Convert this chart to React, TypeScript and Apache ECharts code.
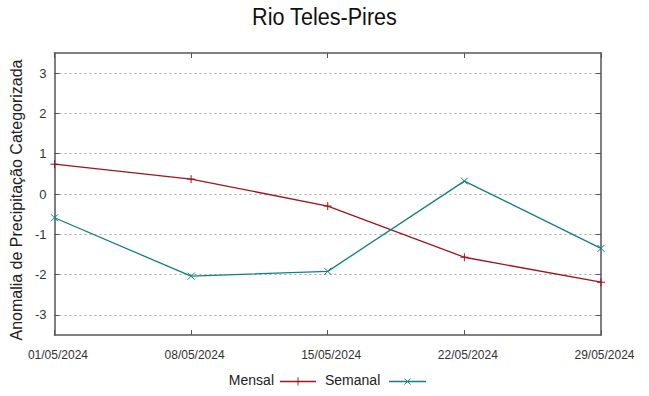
import React, { useEffect, useRef } from "react";
import * as echarts from "echarts";

const categories = ["01/05/2024", "08/05/2024", "15/05/2024", "22/05/2024", "29/05/2024"];
const mensal = [0.74, 0.37, -0.3, -1.57, -2.19];
const semanal = [-0.59, -2.04, -1.92, 0.32, -1.35];
const yTicks = [-3, -2, -1, 0, 1, 2, 3];

const RED = "#a0141c";
const TEAL = "#11807f";
const AXIS = "#555555";
const FONT = "Liberation Sans, Arial, sans-serif";

const plus = "path://M0,-1L0,1M-1,0L1,0";
const cross = "path://M-1,-1L1,1M-1,1L1,-1";

export default function App() {
  const ref = useRef<HTMLDivElement>(null);
  useEffect(() => {
    if (!ref.current) return;
    const chart = echarts.init(ref.current, null, { renderer: "svg" });
    const yAxisBase = {
      type: "value",
      min: -3.5,
      max: 3.5,
      axisLine: { show: true, lineStyle: { color: AXIS, width: 1.5 } },
      axisTick: { show: true, inside: true, length: 5, customValues: yTicks, lineStyle: { color: AXIS } },
      axisLabel: { show: true, customValues: yTicks, fontSize: 13, color: "#333", fontFamily: FONT, margin: 8 },
      splitLine: { show: false },
    };
    chart.setOption({
      animation: false,
      grid: { left: 50, right: 48, top: 53, bottom: 61, containLabel: false },
      xAxis: [
        {
          type: "category",
          data: categories,
          boundaryGap: false,
          position: "bottom",
          axisLine: { show: true, onZero: false, lineStyle: { color: AXIS, width: 1.5 } },
          axisTick: { show: true, inside: true, length: 5, lineStyle: { color: AXIS } },
          axisLabel: {
            fontSize: 12,
            color: "#333",
            fontFamily: FONT,
            margin: 14,
            interval: 0,
            padding: [0, 0, 0, 7],
          },
          splitLine: { show: false },
        },
        {
          type: "category",
          data: categories,
          boundaryGap: false,
          position: "top",
          axisLine: { show: true, onZero: false, lineStyle: { color: AXIS, width: 1.5 } },
          axisTick: { show: true, inside: true, length: 5, lineStyle: { color: AXIS } },
          axisLabel: { show: false },
          splitLine: { show: false },
        },
      ],
      yAxis: [
        {
          ...yAxisBase,
          position: "left",
          name: "Anomalia de Precipitação Categorizada",
          nameLocation: "middle",
          nameGap: 23,
          nameTextStyle: { fontSize: 16, color: "#222", fontFamily: FONT, padding: [0, 12, 0, 0] },
          splitLine: {
            show: true,
            lineStyle: { color: "#a8a8a8", type: [2, 3], width: 1 },
          },
        },
        {
          ...yAxisBase,
          position: "right",
          axisLabel: { show: false },
        },
      ],
      series: [
        {
          name: "Mensal",
          type: "line",
          data: mensal,
          symbol: plus,
          symbolSize: 8,
          lineStyle: { color: RED, width: 1.3 },
          itemStyle: { color: "none", borderColor: RED, borderWidth: 1 },
        },
        {
          name: "Semanal",
          type: "line",
          data: semanal,
          symbol: cross,
          symbolSize: 7,
          lineStyle: { color: TEAL, width: 1.3 },
          itemStyle: { color: "none", borderColor: TEAL, borderWidth: 1 },
        },
      ],
      graphic: [
        {
          type: "text",
          x: 324.5,
          y: 5,
          scaleX: 0.9,
          style: {
            text: "Rio Teles-Pires",
            fontSize: 24,
            fill: "#111",
            fontFamily: FONT,
            textAlign: "center",
            textVerticalAlign: "top",
          },
        },
        {
          type: "text",
          right: 649 - 274,
          top: 373,
          style: { text: "Mensal", fontSize: 14, fill: "#222", fontFamily: FONT, textAlign: "right" },
        },
        { type: "line", shape: { x1: 280, y1: 381.5, x2: 316, y2: 381.5 }, style: { stroke: RED, lineWidth: 1.3 } },
        { type: "line", shape: { x1: 298, y1: 377.5, x2: 298, y2: 385.5 }, style: { stroke: RED, lineWidth: 1 } },
        {
          type: "text",
          left: 325,
          top: 373,
          style: { text: "Semanal", fontSize: 14, fill: "#222", fontFamily: FONT },
        },
        { type: "line", shape: { x1: 389, y1: 381.5, x2: 426, y2: 381.5 }, style: { stroke: TEAL, lineWidth: 1.3 } },
        { type: "line", shape: { x1: 404.5, y1: 378.5, x2: 410.5, y2: 384.5 }, style: { stroke: TEAL, lineWidth: 1 } },
        { type: "line", shape: { x1: 404.5, y1: 384.5, x2: 410.5, y2: 378.5 }, style: { stroke: TEAL, lineWidth: 1 } },
      ],
    });
    return () => chart.dispose();
  }, []);
  return <div ref={ref} style={{ width: 649, height: 396, position: "absolute", left: 0, top: 0 }} />;
}
